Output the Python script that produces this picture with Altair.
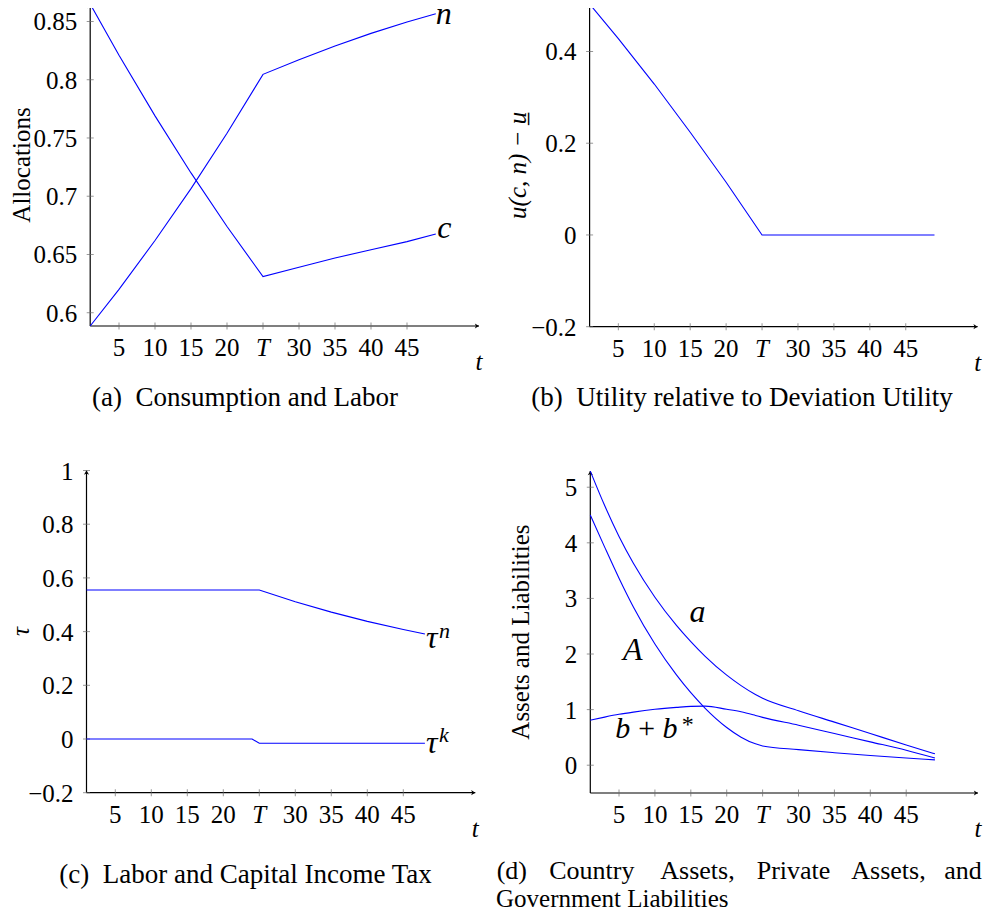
import altair as alt
import pandas as pd

# ---------------- data ----------------
t_alloc = [1, 5, 10, 15, 20, 25, 30, 35, 40, 45, 49]
consumption = [0.865, 0.821, 0.769, 0.720, 0.674, 0.631, 0.639, 0.647, 0.654, 0.661, 0.6675]
labor = [0.5886, 0.620, 0.662, 0.7065, 0.754, 0.8046, 0.8172, 0.829, 0.8398, 0.8495, 0.8566]

t_util = [1, 5, 10, 15, 20, 25, 30, 35, 40, 45, 49]
utility_gap = [0.5035, 0.428, 0.329, 0.224, 0.115, 0.0, 0.0, 0.0, 0.0, 0.0, 0.0]

t_tax = [1, 24, 25, 30, 35, 40, 45, 48]
tau_n = [0.555, 0.555, 0.555, 0.5115, 0.4725, 0.438, 0.408, 0.391]
tau_k = [0.0, 0.0, -0.016, -0.016, -0.016, -0.016, -0.016, -0.016]

t_assets = [1, 3, 5, 7, 10, 13, 15, 17, 20, 22, 24, 25, 30, 35, 40, 45, 49]
private_a = [5.29, 4.67, 4.115, 3.633, 3.022, 2.515, 2.223, 1.958, 1.619, 1.431, 1.271, 1.205,
             0.98, 0.775, 0.57, 0.365, 0.205]
country_A = [4.50, 3.923, 3.363, 2.846, 2.179, 1.624, 1.304, 1.024, 0.679, 0.504, 0.384, 0.346,
             0.28, 0.225, 0.175, 0.13, 0.095]
gov_b = [0.81, 0.865, 0.915, 0.955, 1.005, 1.04, 1.058, 1.062, 1.005, 0.96, 0.895, 0.86,
         0.72, 0.57, 0.42, 0.27, 0.13]

x_ticks = [5, 10, 15, 20, 30, 35, 40, 45]
x_tick_labels = ["5", "10", "15", "20", "30", "35", "40", "45"]
x_tick_T = 25

yticks_a = [0.6, 0.65, 0.7, 0.75, 0.8, 0.85]
ylabels_a = ["0.6", "0.65", "0.7", "0.75", "0.8", "0.85"]
yticks_b = [-0.2, 0.0, 0.2, 0.4]
ylabels_b = ["\u22120.2", "0", "0.2", "0.4"]
yticks_c = [-0.2, 0.0, 0.2, 0.4, 0.6, 0.8, 1.0]
ylabels_c = ["\u22120.2", "0", "0.2", "0.4", "0.6", "0.8", "1"]
yticks_d = [0, 1, 2, 3, 4, 5]
ylabels_d = ["0", "1", "2", "3", "4", "5"]

# ---------------- layout / style ----------------
FONT = "Liberation Serif"
BLUE = "#0000ff"
XDOM = [1, 55]
PANELS = {
    "a": dict(xr=[82.2, 471.0], yd=[0.5886, 0.865], yr=[318.0, -4.0]),
    "b": dict(xr=[581.6, 969.6], yd=[-0.2, 0.5035], yr=[318.7, -4.0]),
    "c": dict(xr=[78.5, 467.3], yd=[-0.2, 1.0], yr=[784.7, 462.5]),
    "d": dict(xr=[582.3, 970.0], yd=[-0.5, 5.29], yr=[785.0, 463.1]),
}
ARROW = "M0,0 L-1,-0.62 L-0.72,0 L-1,0.62 Z"


def sx(p):
    return alt.Scale(domain=XDOM, range=PANELS[p]["xr"], nice=False, zero=False)


def sy(p):
    return alt.Scale(domain=PANELS[p]["yd"], range=PANELS[p]["yr"], nice=False, zero=False)


def X(p):
    return alt.X("t:Q", scale=sx(p), axis=None)


def Y(p):
    return alt.Y("v:Q", scale=sy(p), axis=None)


layers = []


def add_line(p, t, v, interp="linear"):
    df = pd.DataFrame({"t": t, "v": v})
    layers.append(
        alt.Chart(df).mark_line(color=BLUE, strokeWidth=1.1, interpolate=interp).encode(x=X(p), y=Y(p))
    )


def add_text(p, t, v, text, size=25, italic=False, align="center", baseline="alphabetic",
             dx=0, dy=0, angle=0):
    df = pd.DataFrame({"t": [t], "v": [v], "s": [text]})
    kw = dict(font=FONT, fontSize=size, color="black", align=align, baseline=baseline,
              dx=dx, dy=dy, fontStyle="italic" if italic else "normal")
    if angle:
        kw["angle"] = angle
    layers.append(alt.Chart(df).mark_text(**kw).encode(x=X(p), y=Y(p), text="s:N"))


def add_axes(p, yticks, ylabels, ytitle, ytitle_dy, ytitle_italic=False):
    y0, y1 = PANELS[p]["yd"]
    x0, x1 = XDOM
    # axis lines
    layers.append(
        alt.Chart(pd.DataFrame({"t": [x0], "t2": [x1], "v": [y0]}))
        .mark_rule(color="black", strokeWidth=1.2)
        .encode(x=X(p), x2="t2:Q", y=Y(p))
    )
    layers.append(
        alt.Chart(pd.DataFrame({"t": [x0], "v": [y0], "v2": [y1]}))
        .mark_rule(color="black", strokeWidth=1.2)
        .encode(x=X(p), y=Y(p), y2="v2:Q")
    )
    # arrow tips
    layers.append(
        alt.Chart(pd.DataFrame({"t": [x1], "v": [y0]}))
        .mark_point(shape=ARROW, filled=True, color="black", size=70, opacity=1, strokeWidth=0)
        .encode(x=X(p), y=Y(p))
    )
    layers.append(
        alt.Chart(pd.DataFrame({"t": [x0], "v": [y1]}))
        .mark_point(shape=ARROW, filled=True, color="black", size=70, opacity=1, strokeWidth=0, angle=270)
        .encode(x=X(p), y=Y(p))
    )
    # x ticks
    xt = pd.DataFrame({"t": x_ticks + [x_tick_T], "v": [y0] * (len(x_ticks) + 1)})
    layers.append(
        alt.Chart(xt).mark_tick(orient="vertical", size=7, thickness=1, color="#6b6b6b")
        .encode(x=X(p), y=Y(p))
    )
    # y ticks
    yt = pd.DataFrame({"t": [x0] * len(yticks), "v": yticks})
    layers.append(
        alt.Chart(yt).mark_tick(orient="horizontal", size=7, thickness=1, color="#6b6b6b")
        .encode(x=X(p), y=Y(p))
    )
    # x tick labels
    xl = pd.DataFrame({"t": x_ticks, "v": [y0] * len(x_ticks), "s": x_tick_labels})
    layers.append(
        alt.Chart(xl).mark_text(font=FONT, fontSize=25, align="center", baseline="alphabetic", dy=30, color="black")
        .encode(x=X(p), y=Y(p), text="s:N")
    )
    add_text(p, x_tick_T, y0, "T", italic=True, dy=30)
    # y tick labels
    yl = pd.DataFrame({"t": [x0] * len(yticks), "v": yticks, "s": ylabels})
    layers.append(
        alt.Chart(yl).mark_text(font=FONT, fontSize=25, align="right", baseline="alphabetic", dx=-13, dy=9, color="black")
        .encode(x=X(p), y=Y(p), text="s:N")
    )
    # axis titles
    add_text(p, x1, y0, "t", italic=True, dy=44)
    add_text(p, x0, (y0 + y1) / 2, ytitle, italic=ytitle_italic, angle=270, dy=ytitle_dy)


# ---------- panel (a) ----------
add_axes("a", yticks_a, ylabels_a, "Allocations", -60)
add_line("a", t_alloc, consumption)
add_line("a", t_alloc, labor)
add_text("a", t_alloc[-1], labor[-1], "n", size=32, italic=True, align="left", dy=10.5)
add_text("a", t_alloc[-1], consumption[-1], "c", size=32, italic=True, align="left", dx=1.5, dy=4)

# ---------- panel (b) ----------
add_axes("b", yticks_b, ylabels_b, "u(c, n) \u2212 u\u0332", -63.5, ytitle_italic=True)
add_line("b", t_util, utility_gap)

# ---------- panel (c) ----------
add_axes("c", yticks_c, ylabels_c, "\u03c4", -58, ytitle_italic=True)
add_line("c", t_tax, tau_n)
add_line("c", t_tax, tau_k)
add_text("c", t_tax[-1], tau_n[-1], "\u03c4", size=32, italic=True, align="left", dx=1, dy=14)
add_text("c", t_tax[-1], tau_n[-1], "n", size=22, italic=True, align="left", dx=14, dy=4.3)
add_text("c", t_tax[-1], tau_k[-1], "\u03c4", size=32, italic=True, align="left", dx=1, dy=10)
add_text("c", t_tax[-1], tau_k[-1], "k", size=22, italic=True, align="left", dx=14, dy=-1.6)

# ---------- panel (d) ----------
add_axes("d", yticks_d, ylabels_d, "Assets and Liabilities", -61.3)
add_line("d", t_assets, private_a, "monotone")
add_line("d", t_assets, country_A, "monotone")
add_line("d", t_assets, gov_b, "monotone")
add_text("d", 15.93, 2.58, "a", size=32, italic=True)
add_text("d", 6.9, 1.89, "A", size=32, italic=True)
add_text("d", 4.48, 0.484, "b\u2009+\u2009b", size=30, italic=True, align="left")
add_text("d", 13.75, 0.60, "*", size=24, align="left")

# ---------- captions ----------
def caption(text, x, y, align="center", size=27):
    layers.append(
        alt.Chart(pd.DataFrame({"s": [text]}))
        .mark_text(font=FONT, fontSize=size, align=align, baseline="alphabetic", color="black")
        .encode(x=alt.value(x), y=alt.value(y), text="s:N")
    )

caption("(a)\u2002Consumption and Labor", 237, 398)
caption("(b)\u2002Utility relative to Deviation Utility", 734, 398)
caption("(c)\u2002Labor and Capital Income Tax", 237.5, 875)
for word, cx in [("(d)", 503.8), ("Country", 583.8), ("Assets,", 689.5), ("Private", 785.5),
                 ("Assets,", 880.5), ("and", 955)]:
    caption(word, cx, 871, size=26)
caption("Government Liabilities", 488, 899, align="left", size=25)

chart = (
    alt.layer(*layers)
    .resolve_scale(x="independent", y="independent")
    .properties(width=976, height=905, autosize="none", padding=0)
    .configure_view(stroke=None)
)

chart.save("out.html", embed_options={"renderer": "svg", "actions": False})
